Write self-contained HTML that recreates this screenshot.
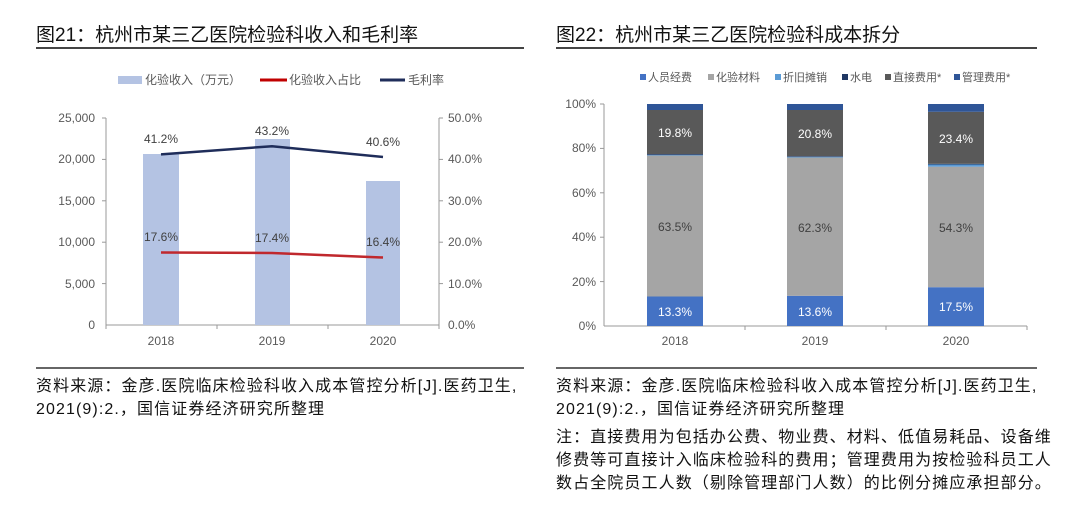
<!DOCTYPE html>
<html><head><meta charset="utf-8"><style>
body{margin:0;background:#fff;width:1080px;height:507px;overflow:hidden;font-family:"Liberation Sans","Noto Sans CJK SC",sans-serif}
.t{position:absolute;font-size:19px;color:#111;white-space:nowrap}
.f{position:absolute;font-size:16px;color:#111;white-space:nowrap;line-height:22.5px;letter-spacing:1.1px}
.r{position:absolute;height:2px;background:#444}
</style></head><body>
<div class="t" style="left:36px;top:20px">图21：杭州市某三乙医院检验科收入和毛利率</div>
<div class="t" style="left:556px;top:20px">图22：杭州市某三乙医院检验科成本拆分</div>
<div class="r" style="left:36px;top:47px;width:488px"></div>
<div class="r" style="left:556px;top:47px;width:481px"></div>
<div class="r" style="left:36px;top:367px;width:488px;background:#666"></div>
<div class="r" style="left:556px;top:367px;width:481px;background:#666"></div>
<div class="f" style="left:36px;top:376px">资料来源：金彦.医院临床检验科收入成本管控分析[J].医药卫生,<br>2021(9):2.，国信证券经济研究所整理</div>
<div class="f" style="left:556px;top:376px">资料来源：金彦.医院临床检验科收入成本管控分析[J].医药卫生,<br>2021(9):2.，国信证券经济研究所整理</div>
<div class="f" style="left:556px;top:426px;line-height:23px">注：直接费用为包括办公费、物业费、材料、低值易耗品、设备维<br>修费等可直接计入临床检验科的费用；管理费用为按检验科员工人<br>数占全院员工人数（剔除管理部门人数）的比例分摊应承担部分。</div>
<svg width="1080" height="507" style="position:absolute;left:0;top:0" font-family="Liberation Sans, Noto Sans CJK SC, sans-serif" font-size="12" fill="#595959">
<rect x="118" y="76" width="24" height="8" fill="#b4c3e3"/><text x="145" y="84">化验收入（万元）</text>
<line x1="260" y1="80" x2="287" y2="80" stroke="#c00000" stroke-width="3"/><text x="289" y="84">化验收入占比</text>
<line x1="380" y1="80" x2="405" y2="80" stroke="#1f2d5a" stroke-width="3"/><text x="408" y="84">毛利率</text>
<g stroke="#999" stroke-width="1">
<line x1="106" y1="118" x2="106" y2="325"/><line x1="439" y1="118" x2="439" y2="325"/><line x1="106" y1="325" x2="439" y2="325"/>
<line x1="102" y1="118" x2="106" y2="118"/><line x1="102" y1="159.4" x2="106" y2="159.4"/><line x1="102" y1="200.8" x2="106" y2="200.8"/><line x1="102" y1="242.2" x2="106" y2="242.2"/><line x1="102" y1="283.6" x2="106" y2="283.6"/>
<line x1="439" y1="118" x2="443" y2="118"/><line x1="439" y1="159.4" x2="443" y2="159.4"/><line x1="439" y1="200.8" x2="443" y2="200.8"/><line x1="439" y1="242.2" x2="443" y2="242.2"/><line x1="439" y1="283.6" x2="443" y2="283.6"/>
<line x1="217" y1="325" x2="217" y2="329"/><line x1="328" y1="325" x2="328" y2="329"/><line x1="106" y1="325" x2="106" y2="329"/><line x1="439" y1="325" x2="439" y2="329"/>
</g>
<g text-anchor="end"><text x="95" y="122">25,000</text><text x="95" y="163">20,000</text><text x="95" y="205">15,000</text><text x="95" y="246">10,000</text><text x="95" y="288">5,000</text><text x="95" y="329">0</text></g>
<g><text x="448" y="122">50.0%</text><text x="448" y="163">40.0%</text><text x="448" y="205">30.0%</text><text x="448" y="246">20.0%</text><text x="448" y="288">10.0%</text><text x="448" y="329">0.0%</text></g>
<g text-anchor="middle"><text x="161" y="345">2018</text><text x="272" y="345">2019</text><text x="383" y="345">2020</text></g>
<rect x="143" y="154" width="36" height="171" fill="#b4c3e3"/>
<rect x="255" y="139" width="35" height="186" fill="#b4c3e3"/>
<rect x="366" y="181" width="34" height="144" fill="#b4c3e3"/>
<polyline points="161,154.4 272,146.2 383,157" fill="none" stroke="#1f2d5a" stroke-width="2.5"/>
<polyline points="161,252.5 272,253 383,257.5" fill="none" stroke="#c0282d" stroke-width="2.5"/>
<g text-anchor="middle" fill="#404040"><text x="161" y="143">41.2%</text><text x="272" y="135">43.2%</text><text x="383" y="146">40.6%</text>
<text x="161" y="241">17.6%</text><text x="272" y="242">17.4%</text><text x="383" y="246">16.4%</text></g>
<g font-size="11">
<rect x="640" y="74" width="6" height="6" fill="#4472c4"/><text x="648" y="81">人员经费</text>
<rect x="708" y="74" width="6" height="6" fill="#a5a5a5"/><text x="716" y="81">化验材料</text>
<rect x="775" y="74" width="6" height="6" fill="#5b9bd5"/><text x="783" y="81">折旧摊销</text>
<rect x="842" y="74" width="6" height="6" fill="#203864"/><text x="850" y="81">水电</text>
<rect x="885" y="74" width="6" height="6" fill="#595959"/><text x="893" y="81">直接费用*</text>
<rect x="954" y="74" width="6" height="6" fill="#2f5597"/><text x="962" y="81">管理费用*</text>
</g>
<g stroke="#999"><line x1="604" y1="104" x2="604" y2="326"/><line x1="604" y1="326" x2="1027" y2="326"/>
<line x1="600" y1="104" x2="604" y2="104"/><line x1="600" y1="148.4" x2="604" y2="148.4"/><line x1="600" y1="192.8" x2="604" y2="192.8"/><line x1="600" y1="237.2" x2="604" y2="237.2"/><line x1="600" y1="281.6" x2="604" y2="281.6"/>
<line x1="745" y1="326" x2="745" y2="330"/><line x1="886" y1="326" x2="886" y2="330"/><line x1="1027" y1="326" x2="1027" y2="330"/></g>
<g text-anchor="end"><text x="596" y="108">100%</text><text x="596" y="152">80%</text><text x="596" y="197">60%</text><text x="596" y="241">40%</text><text x="596" y="286">20%</text><text x="596" y="330">0%</text></g>
<g text-anchor="middle"><text x="675" y="345">2018</text><text x="815" y="345">2019</text><text x="956" y="345">2020</text></g>
<g>
<rect x="647" y="296.5" width="56" height="29.5" fill="#4472c4"/>
<rect x="647" y="155.5" width="56" height="141" fill="#a5a5a5"/>
<rect x="647" y="154.8" width="56" height="0.7" fill="#5b9bd5"/>
<rect x="647" y="153.9" width="56" height="0.9" fill="#203864"/>
<rect x="647" y="110" width="56" height="44" fill="#595959"/>
<rect x="647" y="104" width="56" height="6" fill="#2f5597"/>
<rect x="787" y="295.8" width="56" height="30.2" fill="#4472c4"/>
<rect x="787" y="157.5" width="56" height="138.3" fill="#a5a5a5"/>
<rect x="787" y="156.8" width="56" height="0.7" fill="#5b9bd5"/>
<rect x="787" y="156.1" width="56" height="0.7" fill="#203864"/>
<rect x="787" y="110" width="56" height="46.1" fill="#595959"/>
<rect x="787" y="104" width="56" height="6" fill="#2f5597"/>
<rect x="928" y="287.2" width="56" height="38.8" fill="#4472c4"/>
<rect x="928" y="166.7" width="56" height="120.5" fill="#a5a5a5"/>
<rect x="928" y="164.5" width="56" height="2.2" fill="#5b9bd5"/>
<rect x="928" y="163.8" width="56" height="0.7" fill="#203864"/>
<rect x="928" y="111.8" width="56" height="52" fill="#595959"/>
<rect x="928" y="104" width="56" height="7.8" fill="#2f5597"/>
</g>
<g text-anchor="middle" fill="#fff"><text x="675" y="137">19.8%</text><text x="815" y="138">20.8%</text><text x="956" y="143">23.4%</text>
<text x="675" y="316">13.3%</text><text x="815" y="316">13.6%</text><text x="956" y="311">17.5%</text></g>
<g text-anchor="middle" fill="#404040"><text x="675" y="231">63.5%</text><text x="815" y="232">62.3%</text><text x="956" y="232">54.3%</text></g>
</svg>
</body></html>
